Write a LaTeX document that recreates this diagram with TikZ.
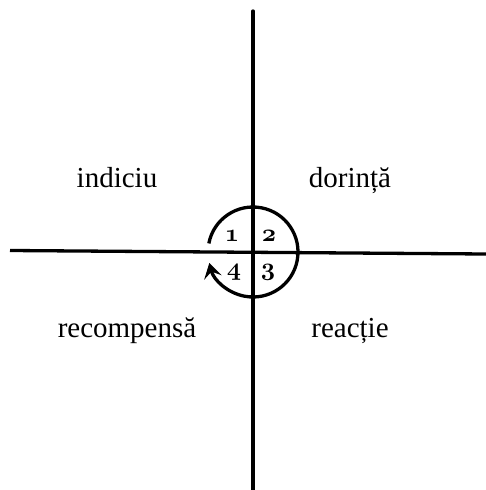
\documentclass[tikz,border=0pt]{standalone}
\usepackage{fontspec}
\setmainfont{Liberation Serif}
\usetikzlibrary{arrows.meta}
\newcommand{\osnum}[1]{{\usefont{OML}{cmm}{b}{it}#1}}
\begin{document}
\begin{tikzpicture}[x=1pt,y=-1pt,
  axis/.style={line width=3.3pt},
  word/.style={font=\fontsize{29}{32}\selectfont, anchor=base},
  num/.style={font=\fontsize{30}{33}\selectfont, anchor=base, inner sep=0pt}]
\useasboundingbox (0,0) rectangle (486,490);
\coordinate (L) at (10,250.5);
\coordinate (R) at (486,254);
\coordinate (T) at (253,11);
\coordinate (B) at (253,490);
\draw[axis] (L) -- (R);
\draw[axis, line cap=round] (T) -- (B);
\coordinate (C) at (253,252);
\draw[line width=3.3pt, -{Stealth[length=15pt,width=18pt,inset=6pt]}]
  ([shift={(191:45)}]C) arc[start angle=191, end angle=526, radius=45];
\node[word] (ind) at (117,187) {indiciu};
\node[word] (dor) at (350,187) {dorință};
\node[word] (rec) at (127,337) {recompensă};
\node[word] (rea) at (350,337) {reacție};
\node[num] (n1) at (232,241) {\osnum{1}};
\node[num] (n2) at (269,241) {\osnum{2}};
\node[num] (n4) at (234,275) {\osnum{4}};
\node[num] (n3) at (268,275) {\osnum{3}};
\end{tikzpicture}
\end{document}
